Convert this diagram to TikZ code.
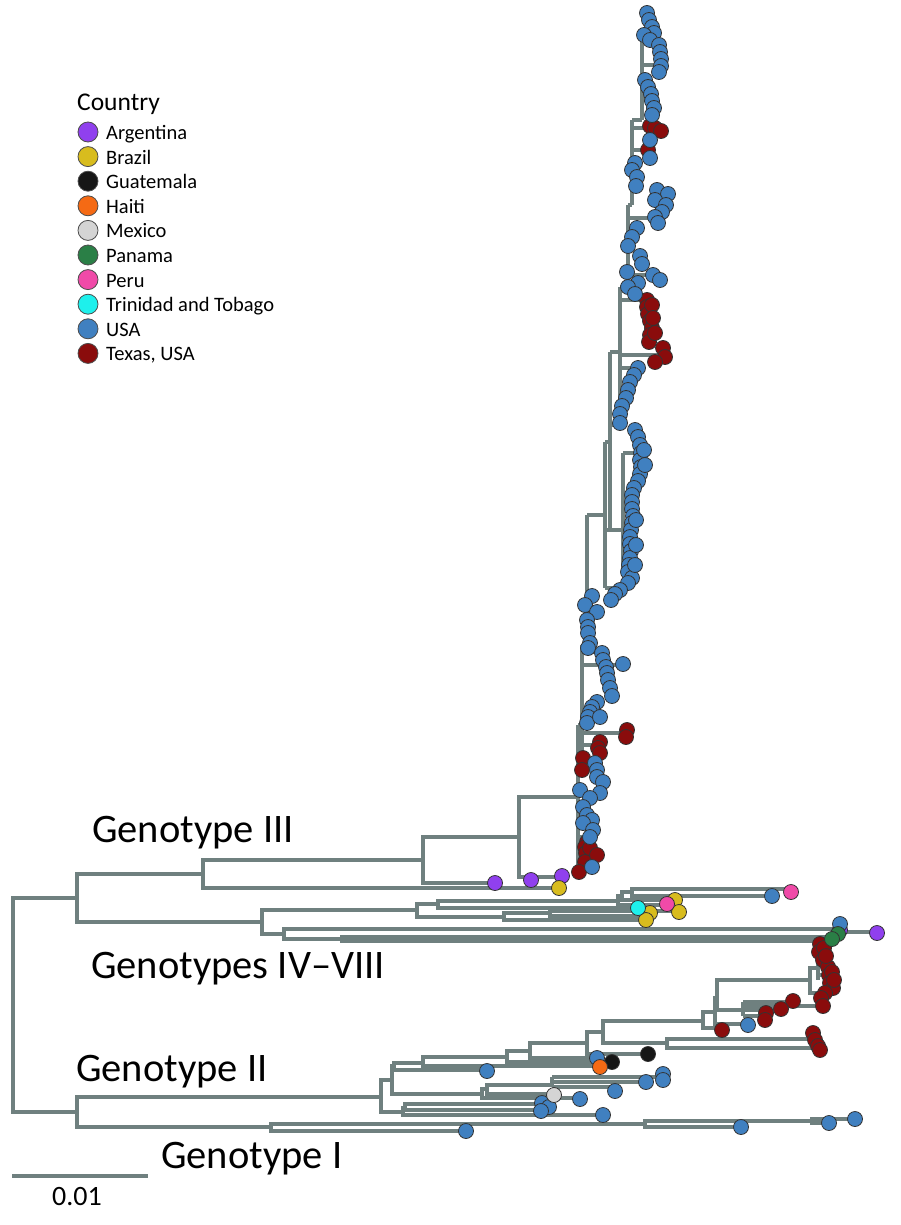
\documentclass[tikz,border=0pt]{standalone}
\usepackage{fontspec}
\setmainfont{Carlito}
\definecolor{tg}{HTML}{6F807F}
\definecolor{cArg}{HTML}{9040EE}
\definecolor{cBra}{HTML}{D8BC1E}
\definecolor{cGua}{HTML}{161616}
\definecolor{cHai}{HTML}{F56A14}
\definecolor{cMex}{HTML}{D4D4D4}
\definecolor{cPan}{HTML}{2A7F46}
\definecolor{cPer}{HTML}{F04AA8}
\definecolor{cTri}{HTML}{1EF0EC}
\definecolor{cUSA}{HTML}{4080C0}
\definecolor{cTex}{HTML}{8A0C0C}
\newcommand{\bk}[5]{\draw[br] (#3,#2) -- (#1,#2) -- (#1,#4) -- (#5,#4);}
\newcommand{\hs}[3]{\draw[br] (#1,#2) -- (#3,#2);}
\newcommand{\vs}[3]{\draw[br] (#1,#2) -- (#1,#3);}
\tikzset{
  br/.style={draw=tg, line width=3.1pt},
  tip/.style={circle, draw=black!80, line width=0.8pt, minimum size=15pt, inner sep=0pt},
  leg/.style={circle, draw=black!70, line width=0.8pt, minimum size=20pt, inner sep=0pt},
  geno/.style={anchor=base west, inner sep=0pt, font=\fontsize{40.5}{42}\selectfont},
  legt/.style={anchor=base west, inner sep=0pt, font=\fontsize{20.5}{22}\selectfont}
}
\begin{document}
\begin{tikzpicture}[x=1pt,y=-1pt]
\useasboundingbox[fill=white] (0,0) rectangle (900,1225);
% ---- backbone
\bk{13}{898}{77}{1112}{77}
\bk{77}{874}{203}{922}{262}
\bk{203}{860}{423}{888}{559}
\bk{423}{837}{519}{883}{495}
\bk{519}{797}{578}{877}{562}
% ---- genotypes IV-VIII
\bk{262}{910}{417}{934}{284}
\bk{417}{904}{438}{917}{504}
\bk{438}{901}{618}{908}{638}
\bk{618}{896}{622}{905}{667}
\bk{622}{892}{632}{900}{675}
\bk{632}{889}{791}{896}{772}
\bk{504}{913}{550}{920}{646}
\bk{550}{911}{679}{916}{650}
\bk{284}{929}{838}{939}{342}
\bk{342}{937}{830}{941}{830}
\hs{838}{932}{877}
% ---- genotype II and I
\bk{77}{1097}{381}{1127}{271}
\bk{271}{1124}{645}{1131}{466}
\bk{645}{1121}{812}{1127}{741}
\bk{812}{1119}{855}{1123}{829}
\bk{381}{1080}{392}{1112}{403}
\bk{392}{1066}{394}{1094}{482}
\bk{394}{1063}{423}{1070}{487}
\bk{423}{1057}{507}{1066}{600}
\bk{507}{1051}{530}{1062}{612}
\bk{530}{1043}{587}{1058}{597}
\bk{587}{1032}{603}{1054}{648}
\bk{603}{1021}{703}{1043}{667}
\bk{667}{1039}{813}{1048}{818}
\bk{703}{1012}{715}{1028}{722}
\bk{715}{998}{717}{1024}{748}
\bk{717}{980}{810}{1010}{743}
\vs{743}{1002}{1016}
\hs{743}{1002}{793}
\hs{743}{1006}{823}
\hs{743}{1010}{781}
\hs{743}{1016}{765}
\bk{810}{968}{818}{993}{825}
\vs{818}{950}{980}
\hs{818}{960}{828}
\hs{818}{975}{829}
\bk{482}{1089}{487}{1098}{580}
\bk{487}{1085}{552}{1094}{554}
\vs{552}{1077}{1087}
\hs{552}{1077}{663}
\hs{552}{1082}{646}
\hs{552}{1087}{615}
\bk{403}{1108}{405}{1115}{603}
\bk{405}{1104}{542}{1110}{542}
% ---- genotype III clade
\vs{578}{725}{872}
\hs{578}{855}{597}
\hs{578}{837}{590}
\hs{578}{805}{588}
\hs{578}{725}{582}
\vs{582}{645}{760}
\hs{582}{745}{600}
\hs{582}{733}{626}
\hs{582}{710}{590}
\hs{582}{665}{623}
\hs{582}{652}{602}
\hs{582}{645}{587}
\vs{587}{515}{645}
\hs{587}{620}{588}
\hs{587}{598}{592}
\hs{587}{515}{605}
\vs{605}{442}{588}
\hs{605}{588}{620}
\hs{605}{530}{623}
\vs{623}{453}{575}
\hs{623}{453}{640}
\hs{623}{500}{632}
\hs{605}{442}{610}
\vs{610}{352}{528}
\hs{610}{425}{620}
\hs{610}{352}{620}
\vs{620}{287}{410}
\hs{620}{368}{638}
\hs{620}{355}{663}
\hs{620}{300}{647}
\hs{620}{287}{628}
\vs{628}{205}{290}
\hs{628}{218}{658}
\hs{628}{275}{653}
\hs{628}{205}{632}
\vs{632}{120}{205}
\hs{632}{187}{636}
\hs{632}{150}{648}
\hs{632}{128}{655}
\hs{632}{120}{642}
\vs{642}{33}{120}
\hs{642}{65}{660}
\hs{642}{100}{652}
\hs{642}{33}{648}
% ---- tips
\node[tip, fill=cArg] (a0) at (840,930) {};
\foreach \x/\y [count=\i] in {650/126,655/128,661/131,648/150,647/300,647/307,648/314,650/321,652/328,650/335,649/342,652/305,653/318,655/333,663/348,665/357,655/362,627/730,626/737,600/742,598/748,600/753,583/758,582/770,587/842,585/847,586/853,585/862,590/848,597/855,579/872,820/944,819/952,823/960,828/967,829/975,830/983,833/988,825/993,821/998,823/1006,824/948,826/956,832/972,834/980,793/1001,781/1009,766/1013,765/1020,722/1030,813/1033,815/1040,818/1046,820/1050}
  \node[tip, fill=cTex] (t\i) at (\x,\y) {};
\foreach \x/\y [count=\i] in {647/13,649/20,652/27,654/33,644/35,650/40,659/45,660/52,661/59,661/66,659/72,645/80,648/87,651/94,652/101,654/108,652/115,650/140,650/158,635/163,632/170,637/177,636/186,657/190,668/194,655/200,666/205,662/212,655/217,658/223,637/228,632/237,628/246,640/256,642/264,627/272,653/275,660/280,638/283,628/287,635/294,638/368,634/375,630/382,628/390,626/398,622/406,620/414,620/423,635/430,638/437,640/445,641/453,640/460,641/467,640/474,638/481,634/488,632/495,632/502,632/509,633/516,632/523,631/530,630/537,630/544,631/551,630/558,629/565,628/572,632/578,628/583,644/450,645/465,636/520,636/545,635/565,620/590,615/594,611/600,592/596,585/605,597/612,587/620,588/627,588/633,590/643,588/648,602/653,603/660,606/667,607/673,608/680,610/688,612/696,623/664,597/702,592/707,590/712,588/717,587/723,600/717,595/763,597/770,597/777,603/782,600/793,580/790,590/798,583/807,587/815,592/820,583/823,593/830,590/837,592/867,772/896,840/924,597/1058,487/1071,663/1074,663/1080,646/1082,615/1091,580/1099,542/1103,549/1107,541/1111,603/1115,466/1131,741/1127,829/1123,855/1119,748/1025}
  \node[tip, fill=cUSA] (u\i) at (\x,\y) {};
\foreach \x/\y [count=\i] in {495/883,531/880,562/876,877/933}
  \node[tip, fill=cArg] (a\i) at (\x,\y) {};
\foreach \x/\y [count=\i] in {559/888,675/900,679/912,650/913,646/920}
  \node[tip, fill=cBra] (b\i) at (\x,\y) {};
\foreach \x/\y [count=\i] in {667/904,791/892}
  \node[tip, fill=cPer] (p\i) at (\x,\y) {};
\node[tip, fill=cTri] (tt1) at (638,908) {};
\node[tip, fill=cGua] (g1) at (612,1062) {};
\node[tip, fill=cGua] (g2) at (648,1054) {};
\node[tip, fill=cHai] (h1) at (600,1067) {};
\node[tip, fill=cMex] (m1) at (554,1095) {};
\node[tip, fill=cPan] (pa1) at (838,934) {};
\node[tip, fill=cPan] (pa2) at (832,939) {};
% ---- labels
\node[geno] (lg3) at (92,842) {Genotype III};
\node[geno] (lg4) at (91,978) {Genotypes IV–VIII};
\node[geno] (lg2) at (76,1081) {Genotype II};
\node[geno] (lg1) at (161,1168) {Genotype I};
% ---- scale bar
\coordinate (s0) at (12,1176);
\coordinate (s1) at (148,1176);
\draw[br] (s0) -- (s1);
\node[anchor=base west, inner sep=0pt, font=\fontsize{28}{30}\selectfont] (sl) at (52,1205) {0.01};
% ---- legend
\node[anchor=base west, inner sep=0pt, font=\fontsize{25.5}{27}\selectfont] (lc) at (77,111) {Country};
\foreach \c/\t [count=\i] in {cArg/Argentina,cBra/Brazil,cGua/Guatemala,cHai/Haiti,cMex/Mexico,cPan/Panama,cPer/Peru,cTri/Trinidad and Tobago,cUSA/USA,cTex/{Texas, USA}} {
  \node[leg, fill=\c] (lk\i) at (88,{132+24.6*(\i-1)}) {};
  \node[legt] (lt\i) at (106,{139.5+24.6*(\i-1)}) {\t};
}
\end{tikzpicture}
\end{document}
